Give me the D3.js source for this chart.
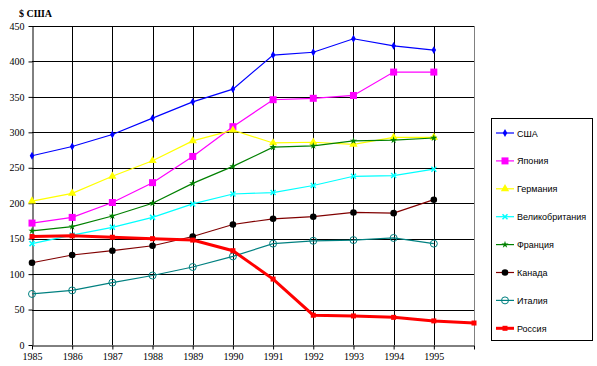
<!DOCTYPE html>
<html>
<head>
<meta charset="utf-8">
<script src="https://cdn.jsdelivr.net/npm/d3@7"></script>
<style>
	body { margin: 0; background: #fff; }
	svg { display: block; }
</style>
</head>
<body>
<div id="chart"></div>
<script>
const years = [1985, 1986, 1987, 1988, 1989, 1990, 1991, 1992, 1993, 1994, 1995];
const yearsRussia = [1985, 1986, 1987, 1988, 1989, 1990, 1991, 1992, 1993, 1994, 1995, 1996];
const yTicks = [0, 50, 100, 150, 200, 250, 300, 350, 400, 450];

const usa = [267, 280, 297, 320, 343, 361, 409, 413, 432, 422, 416];
const japan = [172, 180, 201, 229, 266, 308, 346, 348, 352, 385, 385];
const germany = [203, 214, 238, 260, 288, 303, 285, 286, 283, 293, 293];
const uk = [143, 155, 166, 180, 199, 213, 215, 225, 238, 239, 248];
const france = [161, 167, 182, 200, 228, 252, 279, 281, 288, 289, 292];
const canada = [116, 127, 133, 140, 153, 170, 178, 181, 187, 186, 205];
const italy = [72, 77, 88, 98, 110, 125, 143, 147, 148, 151, 143];
const russia = [153, 154, 152, 150, 148, 133, 93, 42, 41, 39, 34, 31];

const series = [
	{ name: "США", values: usa, xs: years, color: "#0000ff", marker: "diamond" },
	{ name: "Япония", values: japan, xs: years, color: "#ff00ff", marker: "square" },
	{ name: "Германия", values: germany, xs: years, color: "#ffff00", marker: "triangle" },
	{ name: "Великобритания", values: uk, xs: years, color: "#00ffff", marker: "cross" },
	{ name: "Франция", values: france, xs: years, color: "#008000", marker: "star" },
	{ name: "Канада", values: canada, xs: years, color: "#800000", marker: "circle" },
	{ name: "Италия", values: italy, xs: years, color: "#008080", marker: "ring" },
	{ name: "Россия", values: russia, xs: yearsRussia, color: "#ff0000", marker: "bigsquare" }
];

const W = 597, H = 366;
const plot = { left: 32, right: 474, top: 26, bottom: 345 };

const svg = d3.select("#chart")
	.append("svg")
	.attr("width", W)
	.attr("height", H);

const x = d3.scaleLinear().domain([1985, 1996]).range([plot.left, plot.right]);
const y = d3.scaleLinear().domain([0, 450]).range([plot.bottom, plot.top]);

// grid
svg.append("g")
	.selectAll("line")
	.data(yTicks.slice(1))
	.enter()
	.append("line")
	.attr("x1", plot.left)
	.attr("x2", plot.right)
	.attr("y1", (d) => Math.round(y(d)) + 0.5)
	.attr("y2", (d) => Math.round(y(d)) + 0.5)
	.attr("stroke", "#000")
	.attr("stroke-width", 1);

svg.append("g")
	.selectAll("line")
	.data(yearsRussia.slice(1))
	.enter()
	.append("line")
	.attr("x1", (d) => Math.round(x(d)) + 0.5)
	.attr("x2", (d) => Math.round(x(d)) + 0.5)
	.attr("y1", plot.top)
	.attr("y2", plot.bottom)
	.attr("stroke", (d) => (d === 1996 ? "#808080" : "#000"))
	.attr("stroke-width", 1);

// axes
const yAxis = svg.append("g")
	.attr("transform", `translate(${plot.left + 0.5},0)`)
	.call(d3.axisLeft(y).tickValues(yTicks).tickSize(4).tickSizeOuter(0).tickPadding(4));

const xAxis = svg.append("g")
	.attr("transform", `translate(0,${plot.bottom + 0.5})`)
	.call(d3.axisBottom(x).tickValues(yearsRussia).tickSize(4).tickSizeOuter(0).tickPadding(3)
		.tickFormat((d) => (d === 1996 ? "" : d)));

[yAxis, xAxis].forEach((g) => {
	g.select(".domain").attr("stroke", "#000");
	g.selectAll(".tick line").attr("stroke", "#000");
	g.selectAll("text")
		.style("font-family", "'Liberation Serif', serif")
		.style("font-size", "10px")
		.attr("fill", "#000");
});

svg.append("text")
	.attr("x", 19)
	.attr("y", 17)
	.style("font-family", "'Liberation Serif', serif")
	.style("font-size", "10px")
	.style("font-weight", "bold")
	.text("$ США");

function drawMarker(g, type, color, cx, cy) {
	if (type === "diamond") {
		g.append("path")
			.attr("d", d3.symbol(d3.symbolDiamond, 18)())
			.attr("transform", `translate(${cx},${cy})`)
			.attr("fill", color);
	} else if (type === "square") {
		g.append("rect")
			.attr("x", cx - 3.5).attr("y", cy - 3.5)
			.attr("width", 7).attr("height", 7)
			.attr("fill", color);
	} else if (type === "triangle") {
		g.append("path")
			.attr("d", d3.symbol(d3.symbolTriangle, 30)())
			.attr("transform", `translate(${cx},${cy})`)
			.attr("fill", color);
	} else if (type === "cross") {
		g.append("path")
			.attr("d", d3.symbol(d3.symbolTimes, 18)())
			.attr("transform", `translate(${cx},${cy})`)
			.attr("stroke", color)
			.attr("stroke-width", 1.5)
			.attr("fill", "none");
	} else if (type === "star") {
		g.append("path")
			.attr("d", d3.symbol(d3.symbolStar, 16)())
			.attr("transform", `translate(${cx},${cy})`)
			.attr("fill", color);
	} else if (type === "circle") {
		g.append("circle")
			.attr("cx", cx).attr("cy", cy).attr("r", 3.3)
			.attr("fill", "#000");
	} else if (type === "ring") {
		g.append("circle")
			.attr("cx", cx).attr("cy", cy).attr("r", 3.5)
			.attr("fill", "none")
			.attr("stroke", color)
			.attr("stroke-width", 1);
	} else if (type === "bigsquare") {
		g.append("rect")
			.attr("x", cx - 2.5).attr("y", cy - 2.5)
			.attr("width", 5).attr("height", 5)
			.attr("fill", color);
	}
}

const line = d3.line()
	.x((d) => x(d[0]))
	.y((d) => y(d[1]));

series.forEach((s) => {
	const pts = s.xs.map((yr, i) => [yr, s.values[i]]);
	const g = svg.append("g");
	g.append("path")
		.datum(pts)
		.attr("d", line)
		.attr("fill", "none")
		.attr("stroke", s.color)
		.attr("stroke-width", s.name === "Россия" ? 3 : 1.2);
	pts.forEach((p) => drawMarker(g, s.marker, s.color, x(p[0]), y(p[1])));
});

// legend
const legend = svg.append("g");
legend.append("rect")
	.attr("x", 491.5)
	.attr("y", 118.5)
	.attr("width", 101)
	.attr("height", 222)
	.attr("fill", "#fff")
	.attr("stroke", "#000")
	.attr("stroke-width", 1);

series.forEach((s, i) => {
	const ly = 133 + i * 27.9;
	legend.append("line")
		.attr("x1", 496).attr("x2", 514)
		.attr("y1", ly).attr("y2", ly)
		.attr("stroke", s.color)
		.attr("stroke-width", s.name === "Россия" ? 3 : 1.2);
	drawMarker(legend, s.marker, s.color, 505, ly);
	legend.append("text")
		.attr("x", 517)
		.attr("y", ly + 3.5)
		.style("font-family", "'Liberation Sans', Arial, sans-serif")
		.style("font-size", "9px")
		.text(s.name);
});
</script>
</body>
</html>
